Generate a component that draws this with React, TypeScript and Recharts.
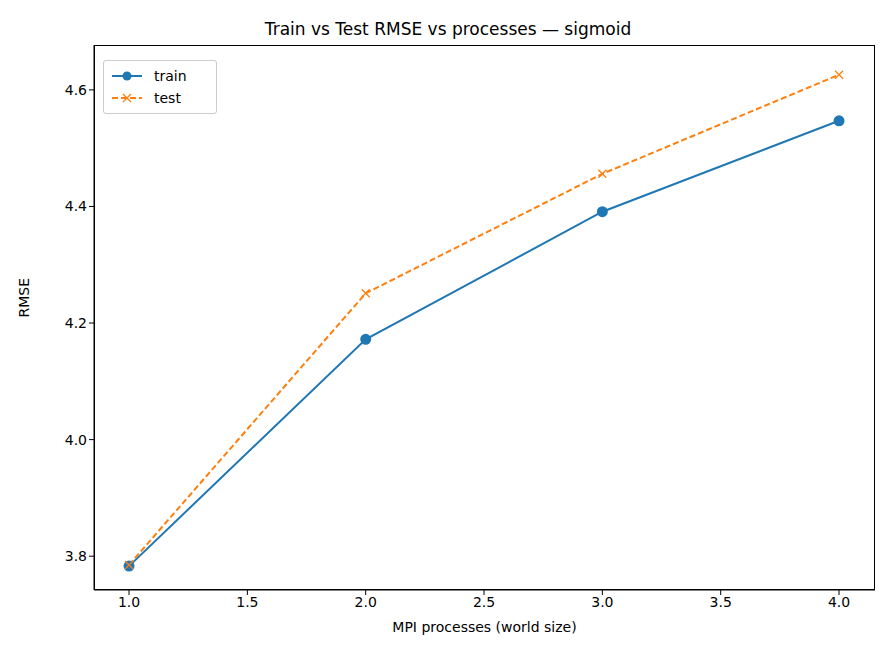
import { LineChart, Line, XAxis, YAxis } from "recharts";

const processes = [1, 2, 3, 4];
const trainRmse = [3.783, 4.172, 4.391, 4.547];
const testRmse = [3.785, 4.251, 4.456, 4.626];
const xTicks = [1.0, 1.5, 2.0, 2.5, 3.0, 3.5, 4.0];
const yTicks = [3.8, 4.0, 4.2, 4.4, 4.6];

const data = processes.map((p, i) => ({ p, train: trainRmse[i], test: testRmse[i] }));
const font = "DejaVu Sans, sans-serif";

const XDot = (props: any) => {
  const { cx, cy } = props;
  if (cx == null) return null;
  return (
    <path d={`M${cx - 4},${cy - 4}L${cx + 4},${cy + 4}M${cx - 4},${cy + 4}L${cx + 4},${cy - 4}`} stroke="#ff7f0e" strokeWidth={1.3} />
  );
};

const LegendBox = () => (
  <div style={{ position: "absolute", top: 60, left: 103, border: "1px solid #ccc", borderRadius: 3, background: "#fff", padding: "4px 8px", fontFamily: font, fontSize: 14, width: 96 }}>
    <div style={{ display: "flex", alignItems: "center", height: 22 }}>
      <svg width={30} height={12}><line x1={0} y1={6} x2={30} y2={6} stroke="#1f77b4" strokeWidth={2} /><circle cx={15} cy={6} r={4.5} fill="#1f77b4" /></svg>
      <span style={{ marginLeft: 12 }}>train</span>
    </div>
    <div style={{ display: "flex", alignItems: "center", height: 22 }}>
      <svg width={30} height={12}><line x1={0} y1={6} x2={30} y2={6} stroke="#ff7f0e" strokeWidth={2} strokeDasharray="6 3" /><path d="M11,2L19,10M11,10L19,2" stroke="#ff7f0e" strokeWidth={1.3} /></svg>
      <span style={{ marginLeft: 12 }}>test</span>
    </div>
  </div>
);

export default function App() {
  return (
    <div style={{ position: "absolute", left: 0, top: 0, width: 896, height: 672, background: "#fff" }}>
      <div style={{ position: "absolute", top: 19, width: 896, textAlign: "center", fontFamily: font, fontSize: 17 }}>
        Train vs Test RMSE vs processes — sigmoid
      </div>
      <LineChart width={896} height={672} data={data} margin={{ top: 45, right: 21, left: 0, bottom: 0 }}>
        <XAxis
          dataKey="p" type="number" domain={[0.852, 4.152]} ticks={xTicks} height={82}
          tickFormatter={(v: number) => v.toFixed(1)} stroke="#000"
          tick={{ fill: "#000", fontSize: 14, fontFamily: font }} tickSize={5}
          label={{ value: "MPI processes (world size)", position: "insideTop", offset: 32, fill: "#000", fontSize: 14, fontFamily: font }}
        />
        <YAxis
          domain={[3.742, 4.677]} ticks={yTicks} width={94} stroke="#000"
          tickFormatter={(v: number) => v.toFixed(1)}
          tick={{ fill: "#000", fontSize: 14, fontFamily: font }} tickSize={5}
          label={{ value: "RMSE", angle: -90, position: "insideLeft", offset: 24, fill: "#000", fontSize: 14, fontFamily: font }}
        />
        <Line dataKey="train" stroke="#1f77b4" strokeWidth={2} dot={{ r: 4.5, fill: "#1f77b4", stroke: "#1f77b4" }} isAnimationActive={false} />
        <Line dataKey="test" stroke="#ff7f0e" strokeWidth={2} strokeDasharray="6 3" dot={<XDot />} isAnimationActive={false} />
      </LineChart>
      <div style={{ position: "absolute", left: 94, top: 45, width: 781, height: 545, border: "1px solid #000", boxSizing: "border-box", pointerEvents: "none" }} />
      <LegendBox />
    </div>
  );
}
